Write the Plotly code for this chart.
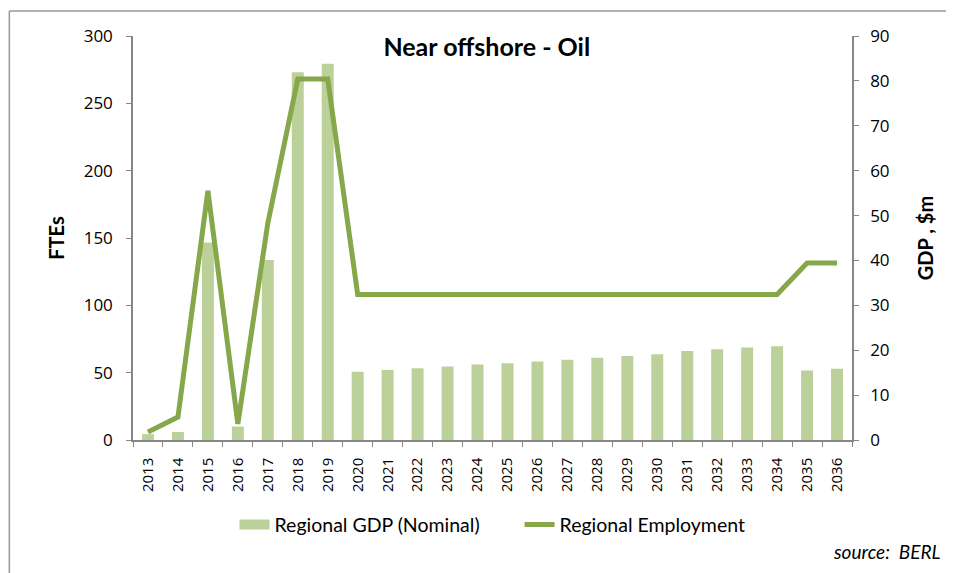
import plotly.graph_objects as go

years = [str(y) for y in range(2013, 2037)]
gdp_nominal = [1.3, 1.8, 44.0, 3.0, 40.1, 81.9, 83.8, 15.2, 15.6, 16.0, 16.4, 16.8,
               17.1, 17.5, 17.9, 18.3, 18.7, 19.1, 19.8, 20.2, 20.6, 20.9, 15.5, 15.9]
employment = [6, 17, 185, 12, 161, 268, 268, 108, 108, 108, 108, 108,
              108, 108, 108, 108, 108, 108, 108, 108, 108, 108, 131.5, 131.5]

FONT = "Lato, 'Open Sans', sans-serif"
TICKFONT = "'Open Sans', Lato, sans-serif"
BAR_COLOR = "#BCD09A"
LINE_COLOR = "#86A84A"
AXIS_COLOR = "#868686"
NB = "\u00a0"

fig = go.Figure()
# GDP bars on the right-hand axis ("y"), employment line on the left axis ("y2", drawn on top)
fig.add_trace(go.Bar(x=years, y=gdp_nominal, name="Regional GDP (Nominal)",
                     marker=dict(color=BAR_COLOR, line=dict(width=0)), yaxis="y",
                     showlegend=False, legendgroup="gdp"))
# legend-only entry giving the wide rectangular swatch of the bar series
fig.add_trace(go.Scatter(x=[None], y=[None], name="Regional GDP (Nominal)" + NB * 7, mode="lines",
                         line=dict(color=BAR_COLOR, width=10), legendgroup="gdp",
                         yaxis="y", hoverinfo="skip"))
fig.add_trace(go.Scatter(x=years, y=employment, name="Regional Employment", mode="lines",
                         line=dict(color=LINE_COLOR, width=5), yaxis="y2"))

fig.update_layout(
    width=946, height=565,
    margin=dict(l=125, r=102, t=28, b=133),
    paper_bgcolor="white", plot_bgcolor="white",
    font=dict(family=FONT, color="black", size=15),
    bargap=0.6,
    showlegend=True,
    legend=dict(orientation="h", x=0.5, xanchor="center", y=-0.21, yanchor="middle",
                font=dict(size=19.5), traceorder="normal"),
    title=dict(text="<b>Near offshore - Oil</b>", x=0.492, xref="paper", xanchor="center",
               y=0.973, yref="paper", yanchor="middle",
               font=dict(size=25, family=FONT)),
    xaxis=dict(type="category", tickangle=-90, tickfont=dict(size=15, family=TICKFONT),
               showline=True, linecolor=AXIS_COLOR, linewidth=1.5,
               ticks="outside", tickson="boundaries", ticklen=5, tickcolor=AXIS_COLOR,
               ticklabelstandoff=10, showgrid=False),
    yaxis=dict(range=[0, 90], dtick=10, side="right", showgrid=False,
               zeroline=False, showline=True, linecolor=AXIS_COLOR, linewidth=1.5,
               ticks="outside", ticklen=5, tickcolor=AXIS_COLOR,
               tickfont=dict(size=17, family=TICKFONT), ticklabelstandoff=8,
               title=dict(text="<b>GDP , $m</b>", font=dict(size=20), standoff=30)),
    yaxis2=dict(range=[0, 300], dtick=50, overlaying="y", side="left", showgrid=False,
                zeroline=False, showline=True, linecolor=AXIS_COLOR, linewidth=1.5,
                ticks="outside", ticklen=5, tickcolor=AXIS_COLOR,
                tickfont=dict(size=17, family=TICKFONT), ticklabelstandoff=10,
                title=dict(text="<b>FTEs</b>", font=dict(size=20), standoff=14)),
    shapes=[
        dict(type="line", xref="paper", yref="paper", x0=-0.172, x1=1.15, y0=1.062, y1=1.062,
             line=dict(color="#999999", width=1.5)),
        dict(type="line", xref="paper", yref="paper", x0=-0.172, x1=-0.172, y0=1.062, y1=-0.33,
             line=dict(color="#999999", width=1.5)),
    ],
    annotations=[
        dict(text="<i>source:  BERL</i>", xref="paper", yref="paper", x=1.1266, y=-0.275,
             xanchor="right", yanchor="middle", showarrow=False, font=dict(size=19)),
    ],
)

fig.write_html("out.html")
